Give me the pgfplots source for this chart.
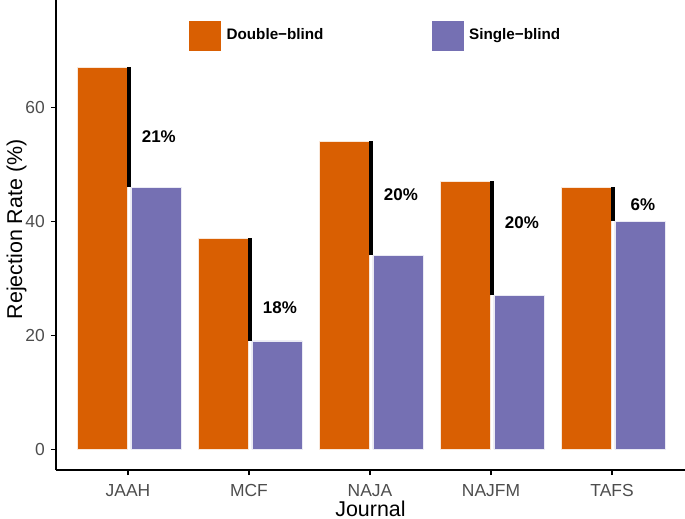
\documentclass[border=0pt]{standalone}
\usepackage{pgfplots}
\pgfplotsset{compat=1.18}
\usepackage{fontspec}
\setmainfont{Liberation Sans}
\definecolor{dblind}{HTML}{D95F02}
\definecolor{sblind}{HTML}{7570B3}
\definecolor{tickgray}{HTML}{4D4D4D}
\begin{document}
\begin{tikzpicture}
\useasboundingbox (-56bp,-49bp) rectangle (629bp,470bp);
\begin{axis}[
  scale only axis,
  width=629bp, height=470bp,
  at={(0,0)}, anchor=south west,
  xmin=-0.595, xmax=4.603,
  ymin=-3.63, ymax=78.8,
  axis x line*=bottom, axis y line*=left,
  axis line style={black, line width=1.4bp},
  xtick={0,1,2,3,4},
  xticklabels={JAAH,MCF,NAJA,NAJFM,TAFS},
  ytick={0,20,40,60},
  tick align=outside,
  major tick length=5bp,
  tick style={black, line width=1.2bp},
  /pgf/number format/assume math mode=true,
  tick label style={font=\fontsize{17.5}{20}\selectfont, text=tickgray},
  yticklabel style={anchor=east, inner sep=0pt, xshift=-6bp},
  xticklabel style={anchor=north, inner sep=0pt, yshift=-9bp},
  xlabel={Journal},
  ylabel={Rejection Rate (\%)},
  label style={font=\fontsize{21.5}{24}\selectfont},
  xlabel style={at={(axis description cs:0.5,0)}, anchor=base, yshift=-46bp, inner sep=0pt},
  ylabel style={at={(axis description cs:-0.054,0.512)}, anchor=base, inner sep=0pt},
  legend style={
    at={(axis cs:0.504,75.1)}, anchor=north west,
    draw=none, fill=none, inner sep=0pt, outer sep=0pt,
    legend columns=2,
    font=\fontsize{15.3}{18}\selectfont\bfseries,
    cells={anchor=base west},
    nodes={inner sep=0pt, text width=205bp, align=left, text depth=0pt},
    /tikz/every odd column/.append style={column sep=6bp},
  },
]
\addplot[ybar, bar width=0.415, bar shift=-0.2125, fill=dblind, draw=white!85!dblind, line width=0.6bp,
  legend image code/.code={\fill[dblind] (0bp,-11bp) rectangle (31bp,18bp);}]
  coordinates {(0,67) (1,37) (2,54) (3,47) (4,46)};
\addlegendentry{Double−blind}
\addplot[ybar, bar width=0.415, bar shift=0.2315, fill=sblind, draw=white!85!sblind, line width=0.6bp,
  legend image code/.code={\fill[sblind] (0bp,-11bp) rectangle (31bp,18bp);}]
  coordinates {(0,46) (1,19) (2,34) (3,27) (4,40)};
\addlegendentry{Single−blind}
\addplot[black, line width=3.5bp, forget plot] coordinates {(0.008,46) (0.008,67)};
\addplot[black, line width=3.5bp, forget plot] coordinates {(1.008,19) (1.008,37)};
\addplot[black, line width=3.5bp, forget plot] coordinates {(2.008,34) (2.008,54)};
\addplot[black, line width=3.5bp, forget plot] coordinates {(3.008,27) (3.008,47)};
\addplot[black, line width=3.5bp, forget plot] coordinates {(4.008,40) (4.008,46)};
\addplot[draw=none, mark=none, forget plot, nodes near coords, point meta=explicit symbolic,
  nodes near coords style={anchor=center, font=\fontsize{17}{20}\selectfont\bfseries, inner sep=0pt}]
  coordinates {(0.255,54.8)[21\%] (1.255,24.8)[18\%] (2.255,44.6)[20\%] (3.255,39.7)[20\%] (4.255,42.9)[6\%]};
\end{axis}
\end{tikzpicture}
\end{document}
